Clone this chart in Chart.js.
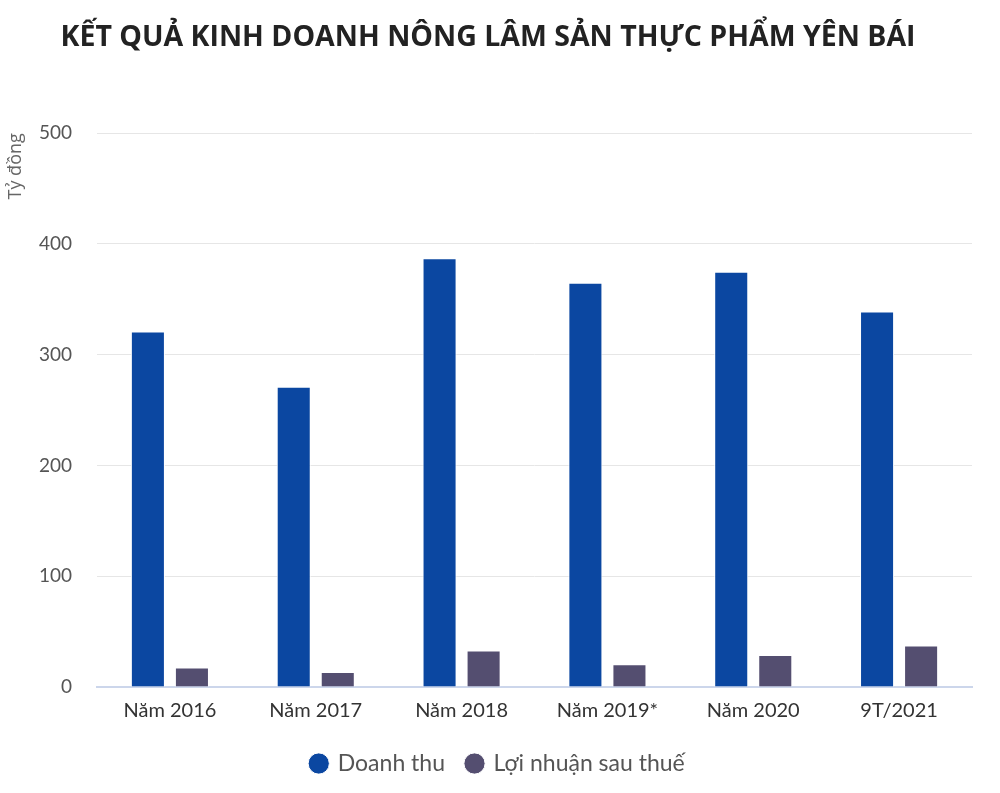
<!DOCTYPE html>
<html>
<head>
<meta charset="utf-8">
<script src="https://cdn.jsdelivr.net/npm/chart.js@4"></script>
<style>
  html, body { margin: 0; padding: 0; background: #fff; }
  #wrap { width: 1000px; height: 793px; }
</style>
</head>
<body>
<div id="wrap"><canvas id="chart"></canvas></div>
<script>
const categories = ['Năm 2016', 'Năm 2017', 'Năm 2018', 'Năm 2019*', 'Năm 2020', '9T/2021'];
const doanhThu = [321, 271, 387, 365, 375, 339];
const loiNhuan = [17.5, 13.5, 33, 20.5, 29, 37.5];
const yTicks = [0, 100, 200, 300, 400, 500];

// nudge the legend a bit (right / up) like the original
const legendShift = {
    id: 'legendShift',
    afterLayout(chart) {
        const lg = chart.legend;
        lg.left += 10; lg.right += 10;
        lg.top -= 5; lg.bottom -= 5;
    }
};

const ctx = document.getElementById('chart').getContext('2d');
const chart = new Chart(ctx, {
    type: 'bar',
    data: {
        labels: categories,
        datasets: [{
            label: 'Doanh thu',
            data: doanhThu,
            backgroundColor: '#0b47a1',
            borderColor: '#ffffff',
            borderWidth: 1,
            categoryPercentage: 0.604,
            barPercentage: 0.773
        },
        {
            label: 'Lợi nhuận sau thuế',
            data: loiNhuan,
            backgroundColor: '#544e70',
            borderColor: '#ffffff',
            borderWidth: 1,
            categoryPercentage: 0.604,
            barPercentage: 0.773
        }]
    },
    plugins: [legendShift],
    options: {
        responsive: true,
        maintainAspectRatio: false,
        animation: false,
        layout: { padding: { left: 4, right: 28, top: 21, bottom: 3 } },
        plugins: {
            title: {
                display: true,
                text: 'KẾT QUẢ KINH DOANH NÔNG LÂM SẢN THỰC PHẨM YÊN BÁI',
                align: 'center',
                color: '#222',
                font: { family: 'Open Sans', size: 28.5, weight: 'bold' },
                padding: { top: 0, bottom: 78 }
            },
            legend: {
                position: 'bottom',
                labels: {
                    usePointStyle: true,
                    pointStyle: 'circle',
                    boxWidth: 15,
                    boxHeight: 15,
                    padding: 22,
                    color: '#555',
                    font: { family: 'Lato', size: 23 }
                }
            },
            tooltip: { enabled: false }
        },
        scales: {
            x: {
                grid: { display: false, drawTicks: false },
                border: { color: '#ccd6eb', width: 2 },
                ticks: {
                    color: '#333',
                    padding: 12,
                    font: { family: 'Lato', size: 20 }
                }
            },
            y: {
                min: 0,
                max: 500,
                afterBuildTicks: (axis) => { axis.ticks = yTicks.map(v => ({ value: v })); },
                afterFit: (axis) => { axis.width = 93; },
                grid: { color: '#e6e6e6', drawTicks: false },
                border: { display: false },
                ticks: {
                    color: '#555',
                    padding: 25,
                    font: { family: 'Lato', size: 19 }
                },
                title: {
                    display: true,
                    text: 'Tỷ đồng',
                    align: 'end',
                    color: '#666',
                    font: { family: 'Open Sans', size: 18 },
                    padding: { top: 1, bottom: 8 }
                }
            }
        }
    }
});
</script>
</body>
</html>
